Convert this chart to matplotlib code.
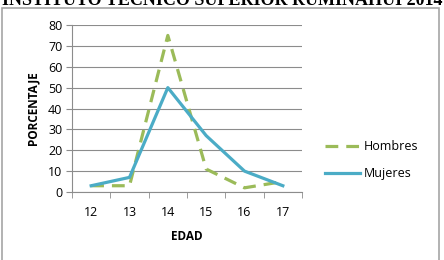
import matplotlib
matplotlib.use("Agg")
import matplotlib.pyplot as plt
from matplotlib.patches import Rectangle

edades = ["12", "13", "14", "15", "16", "17"]
hombres = [3, 3, 75, 11, 2, 5]
mujeres = [3, 7, 50, 27, 10, 3]
y_ticks = [0, 10, 20, 30, 40, 50, 60, 70, 80]

plt.rcParams['font.family'] = ['Open Sans', 'DejaVu Sans']

fig = plt.figure(figsize=(4.44, 2.60), dpi=100)
ax = fig.add_axes([72 / 444, 1 - 192 / 260, 230 / 444, 167 / 260])

gray = '#8c8c8c'
pos = list(range(len(edades)))
ax.plot(pos, hombres, color='#9bbb59', linewidth=2.3, linestyle=(0, (4, 2.5)), label='Hombres')
ax.plot(pos, mujeres, color='#4bacc6', linewidth=2.3, label='Mujeres')

ax.set_xlim(-0.5, 5.5)
ax.set_ylim(0, 80)
ax.set_yticks(y_ticks)
ax.set_xticks(pos)
ax.set_xticklabels(edades)
ax.set_xticks([p - 0.5 for p in range(len(edades) + 1)], minor=True)
ax.tick_params(axis='x', which='major', length=0, pad=10, labelsize=9)
ax.tick_params(axis='x', which='minor', length=4, color=gray, direction='out')
ax.tick_params(axis='y', length=4, color=gray, pad=3, labelsize=9)
ax.grid(axis='y', color=gray, linewidth=0.8)
ax.set_axisbelow(True)
for side in ['top', 'right']:
    ax.spines[side].set_visible(False)
for side in ['left', 'bottom']:
    ax.spines[side].set_color(gray)
    ax.spines[side].set_linewidth(0.8)

ax.set_xlabel('EDAD', fontweight='bold', fontsize=8.5, labelpad=8)
ax.set_ylabel('PORCENTAJE', fontweight='bold', fontsize=8.5, labelpad=6)

ax.legend(loc='center left', bbox_to_anchor=(1.05, 0.19), frameon=False, fontsize=9,
          handlelength=2.8, labelspacing=1.1, handletextpad=0.3)

# chart border and cut off heading
fig.patches.append(Rectangle((2 / 444, -0.05), 437 / 444, 1 - 8 / 260 + 0.05,
                             transform=fig.transFigure, fill=False, edgecolor='#a6a6a6', linewidth=1.2))
fig.text(0.5, 1 - 5 / 260, 'INSTITUTO TECNICO SUPERIOR RUMIÑAHUI 2014', ha='center', va='baseline',
         fontsize=13, fontweight='bold', family=['Liberation Serif', 'DejaVu Serif'])

fig.savefig('out.png', dpi=100)
